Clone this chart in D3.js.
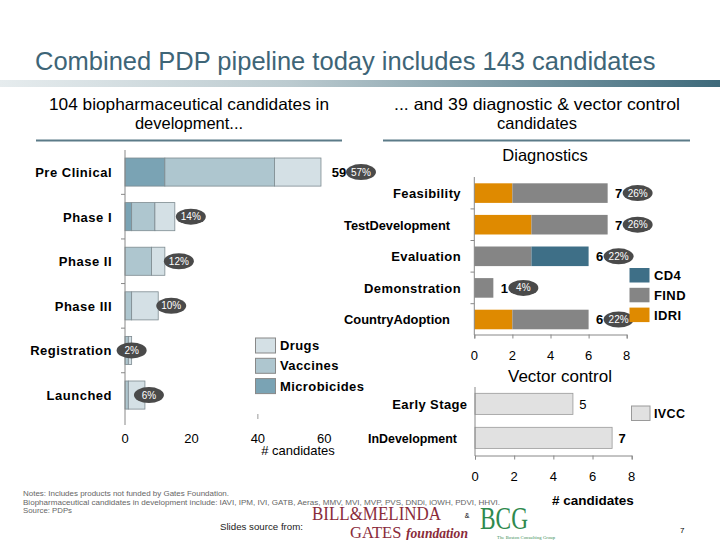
<!DOCTYPE html>
<html><head><meta charset="utf-8">
<script src="https://cdn.jsdelivr.net/npm/d3@7"></script>
<style>body{margin:0;background:#fff}svg{display:block}</style>
</head><body>
<svg id="c" width="720" height="540"></svg>
<script>
// ---- data ----
const bioStages = ["Pre Clinical","Phase I","Phase II","Phase III","Registration","Launched"];
const microbicides = [12,2,0,0,0,0];
const vaccines = [33,7,8,2,1,1];
const drugs = [14,6,4,8,1,5];
const bioPct = ["57%","14%","12%","10%","2%","6%"];
const bioTicks = [0,20,40,60];

const diagStages = ["Feasibility","TestDevelopment","Evaluation","Demonstration","CountryAdoption"];
const idri = [2,3,0,0,2];
const find = [5,4,3,1,4];
const cd4 = [0,0,3,0,0];
const diagPct = ["26%","26%","22%","4%","22%"];

const vecStages = ["Early Stage","InDevelopment"];
const ivcc = [5,7];
const smallTicks = [0,2,4,6,8];

const svg = d3.select("#c");
const F = "'Liberation Sans', Arial, sans-serif";
const SERIF = "'Liberation Serif', serif";

// ---- header ----
const grad = svg.append("defs").append("linearGradient").attr("id","g1");
grad.append("stop").attr("offset","0%").attr("stop-color","#e6ecee");
grad.append("stop").attr("offset","40%").attr("stop-color","#bccbd0");
grad.append("stop").attr("offset","100%").attr("stop-color","#3e6a7b");
svg.append("rect").attr("x",0).attr("y",80).attr("width",720).attr("height",7).attr("fill","url(#g1)");
svg.append("text").attr("x",35).attr("y",70).attr("font-family",F).attr("font-size",25.5)
  .attr("fill","#3e6577").text("Combined PDP pipeline today includes 143 candidates");

function centerText(x,y,t,size,weight){
  return svg.append("text").attr("x",x).attr("y",y).attr("text-anchor","middle")
   .attr("font-family",F).attr("font-size",size).attr("font-weight",weight||"normal").attr("fill","#000").text(t);
}
centerText(189,110,"104 biopharmaceutical candidates in",16.5).attr("textLength",280).attr("lengthAdjust","spacingAndGlyphs");
centerText(189,129,"development...",16.5);
centerText(537,110,"... and 39 diagnostic & vector control",16.5).attr("textLength",286).attr("lengthAdjust","spacingAndGlyphs");
centerText(537,129,"candidates",16.5);
svg.append("line").attr("x1",36).attr("x2",342).attr("y1",140.5).attr("y2",140.5).attr("stroke","#5b7b88").attr("stroke-width",2);
svg.append("line").attr("x1",383).attr("x2",690).attr("y1",140.5).attr("y2",140.5).attr("stroke","#5b7b88").attr("stroke-width",2);

function pill(x,y,t){
  svg.append("ellipse").attr("cx",x).attr("cy",y).attr("rx",15).attr("ry",8).attr("fill","#4a4a4a");
  svg.append("text").attr("x",x).attr("y",y+3.5).attr("text-anchor","middle").attr("font-family",F)
    .attr("font-size",10).attr("fill","#fff").text(t);
}
function label(x,y,t,opts){
  const el = svg.append("text").attr("x",x).attr("y",y).attr("text-anchor",opts.anchor||"end")
    .attr("font-family",F).attr("font-size",opts.size||13).attr("font-weight","bold").text(t);
  if(opts.ls) el.attr("letter-spacing",opts.ls);
  if(opts.len) el.attr("textLength",opts.len).attr("lengthAdjust","spacingAndGlyphs");
  return el;
}

// ---- left chart ----
const xL = d3.scaleLinear().domain([0,60]).range([125,324.3]);
const yL = d3.scaleBand().domain(bioStages).range([141.5,425.6]).padding(0.37);
const bioSeries = [
  {name:"Microbicides", vals:microbicides, color:"#7aa3b4"},
  {name:"Vaccines", vals:vaccines, color:"#aec6cf"},
  {name:"Drugs", vals:drugs, color:"#d4e0e5"}
];
bioStages.forEach((s,i)=>{
  let acc=0;
  bioSeries.forEach(se=>{
    const v=se.vals[i];
    if(v>0){
      svg.append("rect").attr("x",xL(acc)).attr("y",yL(s)).attr("width",xL(acc+v)-xL(acc))
        .attr("height",yL.bandwidth()).attr("fill",se.color).attr("stroke","#7d8a90").attr("stroke-width",0.8);
    }
    acc+=v;
  });
});
svg.append("line").attr("x1",125).attr("x2",125).attr("y1",150).attr("y2",425).attr("stroke","#888");
for(let k=1;k<bioStages.length;k++){
  const yy = yL(bioStages[k]) - (yL.step()-yL.bandwidth())/2;
  svg.append("line").attr("x1",121).attr("x2",125).attr("y1",yy).attr("y2",yy).attr("stroke","#888");
}
bioStages.forEach(s=>{
  label(112, yL(s)+yL.bandwidth()/2+5, s, {ls:0.5});
});
bioTicks.forEach(t=>{
  svg.append("text").attr("x",xL(t)).attr("y",443).attr("text-anchor","middle").attr("font-family",F)
    .attr("font-size",13).text(t);
});
svg.append("line").attr("x1",xL(40)).attr("x2",xL(40)).attr("y1",414).attr("y2",419).attr("stroke","#999");
centerText(298,455,"# candidates",13);
const pillOffL = [40,16,14,13,0,4];
bioStages.forEach((s,i)=>{
  const tot = microbicides[i]+vaccines[i]+drugs[i];
  const cy = yL(s)+yL.bandwidth()/2;
  if(i===0){
    svg.append("text").attr("x",xL(tot)+18).attr("y",cy+5).attr("text-anchor","middle").attr("font-family",F)
      .attr("font-size",13).attr("font-weight","bold").text(tot);
  }
  pill(xL(tot)+pillOffL[i], cy, bioPct[i]);
});
[["Drugs","#d4e0e5"],["Vaccines","#aec6cf"],["Microbicides","#7aa3b4"]].forEach((d,i)=>{
  const y0 = 338 + i*20.3;
  svg.append("rect").attr("x",255.5).attr("y",y0).attr("width",20).attr("height",15).attr("fill",d[1]).attr("stroke","#888");
  label(280, y0+12, d[0], {anchor:"start", ls:0.4});
});

// ---- diagnostics ----
centerText(545,161,"Diagnostics",16.5);
const xD = d3.scaleLinear().domain([0,8]).range([474.3,626.7]);
const yD = d3.scaleBand().domain(diagStages).range([171.3,341.3]).padding(0.38);
const diagSeries = [
  {name:"IDRI", vals:idri, color:"#df8a00"},
  {name:"FIND", vals:find, color:"#858585"},
  {name:"CD4", vals:cd4, color:"#3e6f87"}
];
diagStages.forEach((s,i)=>{
  let acc=0;
  diagSeries.forEach(se=>{
    const v=se.vals[i];
    if(v>0){
      svg.append("rect").attr("x",xD(acc)).attr("y",yD(s)).attr("width",xD(acc+v)-xD(acc))
        .attr("height",yD.bandwidth()).attr("fill",se.color);
    }
    acc+=v;
  });
  const cy=yD(s)+yD.bandwidth()/2;
  svg.append("text").attr("x",xD(acc)+11).attr("y",cy+5).attr("text-anchor","middle").attr("font-family",F)
    .attr("font-size",13).attr("font-weight","bold").text(acc);
  pill(xD(acc)+30, cy, diagPct[i]);
  const narrow = s.indexOf("Development")>=0 || s.indexOf("Adoption")>=0;
  if(narrow) label(450, cy+5, s, {size:12.5, len:106});
  else label(461, cy+5, s, {ls:0.4});
});
svg.append("g").attr("transform","translate(0,334.5)")
  .call(d3.axisBottom(xD).tickValues(smallTicks).tickSize(4).tickFormat(""))
  .call(g=>{g.select(".domain").attr("stroke","#888");g.selectAll("line").attr("stroke","#888");});
svg.append("line").attr("x1",474.3).attr("x2",474.3).attr("y1",177).attr("y2",335).attr("stroke","#888");
for(let k=1;k<diagStages.length;k++){
  const yy=yD(diagStages[k]) - (yD.step()-yD.bandwidth())/2;
  svg.append("line").attr("x1",470.5).attr("x2",474.3).attr("y1",yy).attr("y2",yy).attr("stroke","#888");
}
smallTicks.forEach(t=>{
  svg.append("text").attr("x",xD(t)).attr("y",360).attr("text-anchor","middle").attr("font-family",F).attr("font-size",13).text(t);
});
[["CD4","#3e6f87"],["FIND","#858585"],["IDRI","#df8a00"]].forEach((d,i)=>{
  const y0=268+i*19.8;
  svg.append("rect").attr("x",629.5).attr("y",y0).attr("width",20).attr("height",14.5).attr("fill",d[1]);
  label(654, y0+12, d[0], {anchor:"start", ls:0.4});
});

// ---- vector control ----
centerText(560,382,"Vector control",17);
const xV = d3.scaleLinear().domain([0,8]).range([475,631.7]);
const yV = d3.scaleBand().domain(vecStages).range([380.4,461.3]).padding(0.38);
vecStages.forEach((s,i)=>{
  const cy=yV(s)+yV.bandwidth()/2;
  svg.append("rect").attr("x",xV(0)).attr("y",yV(s)).attr("width",xV(ivcc[i])-xV(0)).attr("height",yV.bandwidth())
    .attr("fill","#e1e1e1").attr("stroke","#9a9a9a").attr("stroke-width",0.8);
  svg.append("text").attr("x",xV(ivcc[i])+10).attr("y",cy+5).attr("text-anchor","middle").attr("font-family",F)
    .attr("font-size",13).attr("font-weight",i===1?"bold":"normal").text(ivcc[i]);
  const narrow = s.indexOf("Development")>=0;
  if(narrow) label(457, cy+5, s, {size:12.5, len:89});
  else label(467.5, cy+5, s, {ls:0.4});
});
svg.append("g").attr("transform","translate(0,455.5)")
  .call(d3.axisBottom(xV).tickValues(smallTicks).tickSize(4).tickFormat(""))
  .call(g=>{g.select(".domain").attr("stroke","#888");g.selectAll("line").attr("stroke","#888");});
svg.append("line").attr("x1",475).attr("x2",475).attr("y1",387).attr("y2",456).attr("stroke","#888");
smallTicks.forEach(t=>{
  svg.append("text").attr("x",xV(t)).attr("y",481).attr("text-anchor","middle").attr("font-family",F).attr("font-size",13).text(t);
});
svg.append("rect").attr("x",631.5).attr("y",406).attr("width",18.5).attr("height",14.5).attr("fill","#e1e1e1").attr("stroke","#9a9a9a");
label(654, 418, "IVCC", {anchor:"start", size:12.5, ls:0.4});
centerText(593,505,"# candidates",13.5,"bold");

// ---- footer ----
const notes = ["Notes: Includes products not funded by Gates Foundation.",
 "Biopharmaceutical candidates in development include: IAVI, IPM, IVI, GATB, Aeras, MMV, MVI, MVP, PVS, DNDi, iOWH, PDVI, HHVI.",
 "Source: PDPs"];
const noteLen = [206,477,49];
notes.forEach((t,i)=>{
  svg.append("text").attr("x",23).attr("y",496+i*8.7).attr("font-family",F).attr("font-size",7.5).attr("fill","#666")
    .attr("textLength",noteLen[i]).attr("lengthAdjust","spacingAndGlyphs").text(t);
});
svg.append("text").attr("x",220).attr("y",530).attr("font-family",F).attr("font-size",9).attr("fill","#222")
  .attr("textLength",83).attr("lengthAdjust","spacingAndGlyphs").text("Slides source from:");
svg.append("text").attr("x",312).attr("y",520).attr("font-family",SERIF).attr("font-size",19)
  .attr("fill","#8a2b3a").attr("textLength",129).attr("lengthAdjust","spacingAndGlyphs").text("BILL&MELINDA");
svg.append("text").attr("x",350).attr("y",537.5).attr("font-family",SERIF).attr("font-size",16.5)
  .attr("fill","#8a2b3a").text("GATES");
svg.append("text").attr("x",406).attr("y",537.5).attr("font-family",SERIF).attr("font-size",14)
  .attr("font-style","italic").attr("font-weight","bold").attr("fill","#8a2b3a")
  .attr("textLength",62).attr("lengthAdjust","spacingAndGlyphs").text("foundation");
svg.append("text").attr("x",467).attr("y",518).attr("font-family",F).attr("font-size",7).attr("text-anchor","middle").text("&");
svg.append("text").attr("x",480).attr("y",529).attr("font-family",SERIF).attr("font-size",31)
  .attr("fill","#2f8a4e").attr("textLength",48).attr("lengthAdjust","spacingAndGlyphs").text("BCG");
svg.append("text").attr("x",497).attr("y",539).attr("font-family",SERIF).attr("font-size",4.5)
  .attr("fill","#2f8a4e").attr("textLength",58).text("The Boston Consulting Group");
svg.append("text").attr("x",680).attr("y",533).attr("font-family",F).attr("font-size",8).text("7");
</script>
</body></html>
